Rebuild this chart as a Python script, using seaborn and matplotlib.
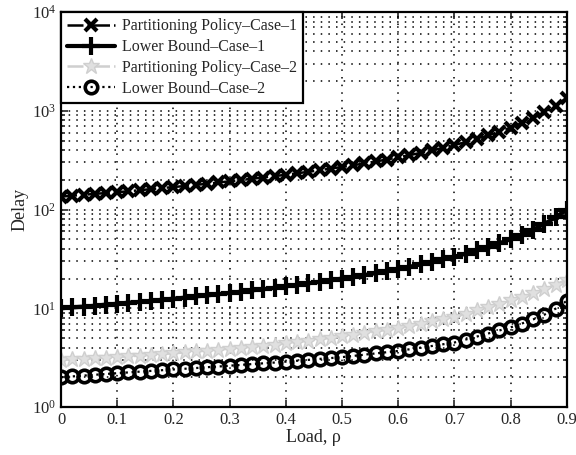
import numpy as np
import pandas as pd
import matplotlib
matplotlib.use("Agg")
import matplotlib.pyplot as plt
import seaborn as sns
from matplotlib.ticker import LogLocator, LogFormatterMathtext, NullFormatter

# Load values (0 to 0.9, step 0.02)
load = [0.00, 0.02, 0.04, 0.06, 0.08, 0.10, 0.12, 0.14, 0.16, 0.18,
        0.20, 0.22, 0.24, 0.26, 0.28, 0.30, 0.32, 0.34, 0.36, 0.38,
        0.40, 0.42, 0.44, 0.46, 0.48, 0.50, 0.52, 0.54, 0.56, 0.58,
        0.60, 0.62, 0.64, 0.66, 0.68, 0.70, 0.72, 0.74, 0.76, 0.78,
        0.80, 0.82, 0.84, 0.86, 0.88, 0.90]

policy_case1 = [135, 138, 141, 144, 147, 150, 153, 157, 161, 165,
                169, 173, 178, 182, 188, 193, 199, 205, 211, 218,
                225, 233, 241, 250, 260, 270, 281, 293, 307, 321,
                338, 355, 375, 397, 422, 450, 482, 519, 563, 614,
                675, 750, 844, 964, 1125, 1350]

bound_case1 = [10.0, 10.2, 10.4, 10.6, 10.9, 11.1, 11.4, 11.6, 11.9, 12.2,
               12.5, 12.8, 13.2, 13.5, 13.9, 14.3, 14.7, 15.2, 15.6, 16.1,
               16.7, 17.2, 17.9, 18.5, 19.2, 20.0, 20.8, 21.7, 22.7, 23.8,
               25.0, 26.3, 27.8, 29.4, 31.3, 33.3, 35.7, 38.5, 41.7, 45.5,
               50.0, 55.6, 62.5, 71.4, 83.3, 100.0]

policy_case2 = [3.00, 3.04, 3.08, 3.12, 3.16, 3.20, 3.26, 3.32, 3.38, 3.44,
                3.50, 3.57, 3.65, 3.73, 3.81, 3.90, 3.99, 4.09, 4.19, 4.29,
                4.40, 4.55, 4.70, 4.86, 5.03, 5.20, 5.40, 5.61, 5.83, 6.06,
                6.30, 6.63, 6.98, 7.36, 7.77, 8.20, 8.85, 9.55, 10.3, 11.1,
                12.0, 13.0, 14.2, 15.6, 17.4, 19.5]

bound_case2 = [2.00, 2.04, 2.08, 2.12, 2.16, 2.20, 2.24, 2.28, 2.32, 2.36,
               2.40, 2.44, 2.48, 2.53, 2.57, 2.62, 2.67, 2.72, 2.77, 2.82,
               2.88, 2.94, 3.00, 3.07, 3.13, 3.20, 3.29, 3.39, 3.49, 3.59,
               3.70, 3.84, 3.99, 4.15, 4.32, 4.50, 4.82, 5.17, 5.55, 5.96,
               6.40, 7.00, 7.70, 8.60, 9.90, 11.9]

x_ticks = [0.0, 0.1, 0.2, 0.3, 0.4, 0.5, 0.6, 0.7, 0.8, 0.9]
x_tick_labels = ["0", "0.1", "0.2", "0.3", "0.4", "0.5", "0.6", "0.7", "0.8", "0.9"]

series_names = ["Partitioning Policy\u2013Case\u20131",
                "Lower Bound\u2013Case\u20131",
                "Partitioning Policy\u2013Case\u20132",
                "Lower Bound\u2013Case\u20132"]

sns.set_style("ticks")
plt.rcParams["font.family"] = ["Liberation Serif", "DejaVu Serif"]
plt.rcParams["mathtext.fontset"] = "stix"

fig = plt.figure(figsize=(5.76, 4.55), dpi=100)
ax = fig.add_axes([0.106, 0.1055, 0.878, 0.868])

df = pd.DataFrame({"load": load})
gray = "#cfcfcf"
styles = [
    dict(y=policy_case1, color="black", marker="x", linestyle="-.", linewidth=1.8,
         markersize=9, markeredgewidth=3.0, markeredgecolor="black"),
    dict(y=bound_case1, color="black", marker="+", linestyle="-", linewidth=3.0,
         markersize=13, markeredgewidth=3.0, markeredgecolor="black"),
    dict(y=policy_case2, color=gray, marker="*", linestyle="-.", linewidth=1.8,
         markersize=12, markeredgewidth=1.0, markeredgecolor=gray,
         markerfacecolor="#e0e0e0"),
    dict(y=bound_case2, color="black", marker="o", linestyle=":", linewidth=1.6,
         markersize=9, markeredgewidth=2.6, markeredgecolor="black",
         markerfacecolor="none"),
]
for name, st in zip(series_names, styles):
    st = dict(st)
    yvals = st.pop("y")
    sns.lineplot(x=df["load"], y=yvals, ax=ax, label=name, **st)

ax.set_yscale("log")
ax.set_xlim(0, 0.9)
ax.set_ylim(1, 1e4)
ax.yaxis.set_major_locator(LogLocator(base=10, numticks=10))
ax.yaxis.set_minor_locator(LogLocator(base=10, subs=np.arange(2, 10), numticks=20))
ax.yaxis.set_major_formatter(LogFormatterMathtext())
ax.yaxis.set_minor_formatter(NullFormatter())
ax.set_xticks(x_ticks)
ax.set_xticklabels(x_tick_labels)

grid_dots = (0, (1, 4))
ax.grid(which="major", axis="both", color="black", linestyle=grid_dots, linewidth=1.1)
ax.grid(which="minor", axis="y", color="black", linestyle=grid_dots, linewidth=1.1)
ax.set_axisbelow(True)

ax.tick_params(which="both", direction="in", top=True, right=True, labelsize=12,
               width=1.2)
ax.tick_params(which="major", length=5)
ax.tick_params(which="minor", length=3)
for sp in ax.spines.values():
    sp.set_linewidth(1.6)
    sp.set_color("black")

ax.set_xlabel("Load, \u03c1", fontsize=13, labelpad=1)
ax.set_ylabel("Delay", fontsize=13, labelpad=2)

leg = ax.legend(loc="upper left", fontsize=11.5, frameon=True, fancybox=False,
                edgecolor="black", framealpha=1, borderaxespad=0, handlelength=3.0,
                labelspacing=0.3, borderpad=0.4, handletextpad=0.4)
leg.get_frame().set_linewidth(1.6)

fig.savefig("out.png", dpi=100)
